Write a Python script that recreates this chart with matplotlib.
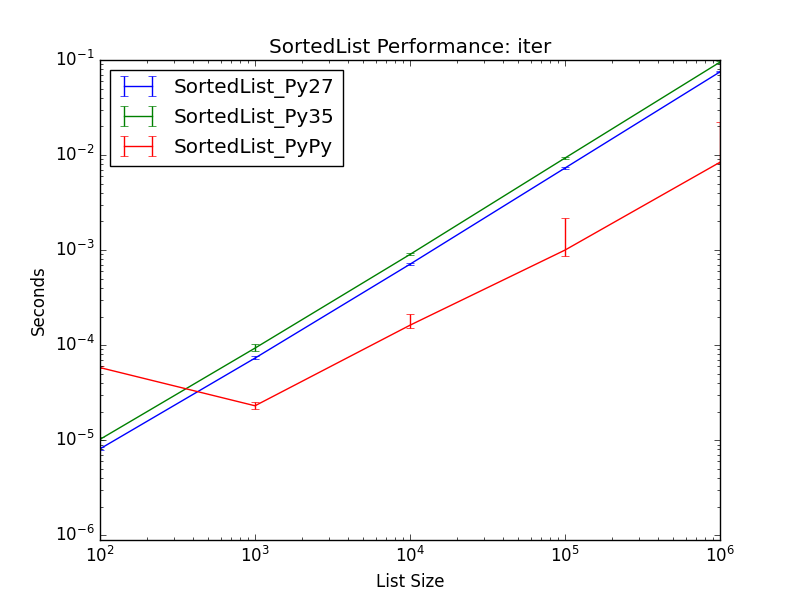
import numpy as np
import matplotlib
matplotlib.use("Agg")
import matplotlib.pyplot as plt

plt.style.use("classic")

sizes = [1e2, 1e3, 1e4, 1e5, 1e6]

py27 = [8.1e-6, 7.3e-5, 7.1e-4, 7.3e-3, 7.5e-2]
py27_lo = [7.9e-6, 7.1e-5, 6.9e-4, 7.1e-3, 7.4e-2]
py27_hi = [8.5e-6, 7.6e-5, 7.4e-4, 7.5e-3, 7.7e-2]

py35 = [1.02e-5, 9.3e-5, 9.0e-4, 9.3e-3, 9.5e-2]
py35_lo = [1.0e-5, 8.6e-5, 8.8e-4, 9.1e-3, 9.4e-2]
py35_hi = [1.07e-5, 1.03e-4, 9.4e-4, 9.6e-3, 9.7e-2]

pypy = [5.8e-5, 2.3e-5, 1.62e-4, 1.0e-3, 8.4e-3]
pypy_lo = [5.7e-5, 2.15e-5, 1.52e-4, 8.7e-4, 8.2e-3]
pypy_hi = [6.0e-5, 2.5e-5, 2.1e-4, 2.15e-3, 2.2e-2]


def yerr(mid, lo, hi):
    mid = np.array(mid)
    return [mid - np.array(lo), np.array(hi) - mid]


fig, ax = plt.subplots(figsize=(8, 6), dpi=100)
ax.errorbar(sizes, py27, yerr=yerr(py27, py27_lo, py27_hi), color="b", label="SortedList_Py27")
ax.errorbar(sizes, py35, yerr=yerr(py35, py35_lo, py35_hi), color="g", label="SortedList_Py35")
ax.errorbar(sizes, pypy, yerr=yerr(pypy, pypy_lo, pypy_hi), color="r", label="SortedList_PyPy")
ax.set_xscale("log")
ax.set_yscale("log")
ax.set_xlim(1e2, 1e6)
ax.set_ylim(8.9e-7, 1e-1)
ax.set_xlabel("List Size")
ax.set_ylabel("Seconds")
ax.set_title("SortedList Performance: iter")
ax.legend(loc="upper left")
fig.savefig("out.png", facecolor="white")
